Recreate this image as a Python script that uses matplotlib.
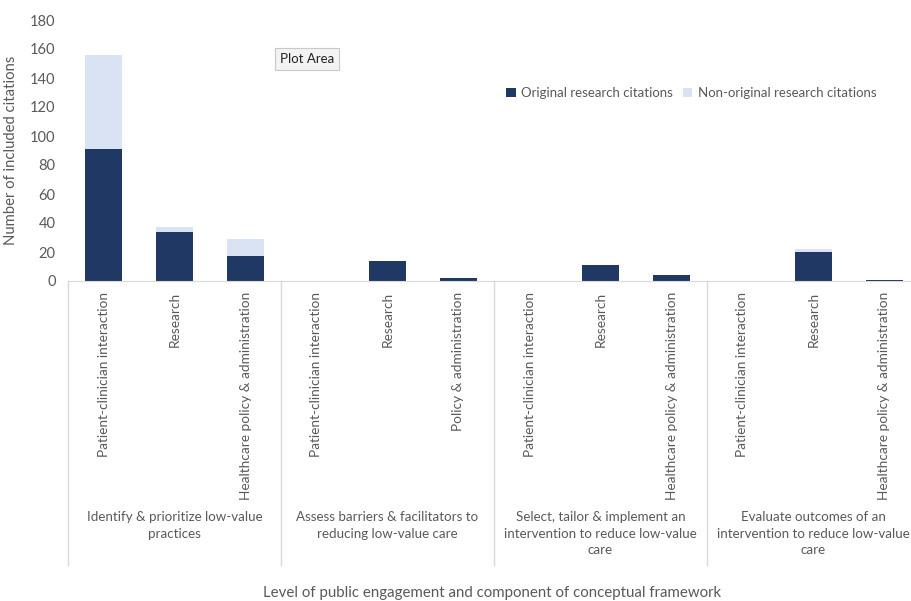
import numpy as np
import matplotlib
matplotlib.use("Agg")
import matplotlib.pyplot as plt
from matplotlib.lines import Line2D
import matplotlib.transforms as mtransforms

plt.rcParams['font.family'] = ['Lato', 'DejaVu Sans']

# framework components (groups) and engagement level within each
groups = ["Identify & prioritize low-value\npractices",
          "Assess barriers & facilitators to\nreducing low-value care",
          "Select, tailor & implement an\nintervention to reduce low-value\ncare",
          "Evaluate outcomes of an\nintervention to reduce low-value\ncare"]
levels = [
    ["Patient-clinician interaction", "Research", "Healthcare policy & administration"],
    ["Patient-clinician interaction", "Research", "Policy & administration"],
    ["Patient-clinician interaction", "Research", "Healthcare policy & administration"],
    ["Patient-clinician interaction", "Research", "Healthcare policy & administration"],
]

# citation counts, one entry per bar (group by group)
original = [91, 34, 17, 0, 14, 2, 0, 11, 4, 0, 20, 1]
non_original = [65, 3, 12, 0, 0, 0, 0, 0, 0, 0, 2, 0]

dark = "#203864"
light = "#DAE3F3"
grey = "#595959"
line_grey = "#D9D9D9"

tick_labels = [lab for g in levels for lab in g]
x = np.arange(len(tick_labels))

fig = plt.figure(figsize=(9.11, 6.01), dpi=100)
W, H = 911, 601
ax = fig.add_axes([68 / W, (H - 281) / H, 852 / W, 261 / H])

ax.bar(x, original, width=0.53, color=dark, label="Original research citations")
ax.bar(x, non_original, width=0.53, bottom=original, color=light,
       label="Non-original research citations")

ax.set_xlim(-0.5, len(x) - 0.5)
ax.set_ylim(0, 180)
ax.set_yticks(np.arange(0, 181, 20))
ax.tick_params(axis='y', length=0, labelsize=10.5, labelcolor=grey, pad=9)
ax.set_xticks(x)
ax.set_xticklabels(tick_labels, rotation=90, fontsize=9.8, color=grey)
ax.tick_params(axis='x', length=0, pad=8)

for side in ["top", "right", "left"]:
    ax.spines[side].set_visible(False)
ax.spines["bottom"].set_color(line_grey)

# group separators and group labels below the rotated tick labels
trans = mtransforms.blended_transform_factory(ax.transData, fig.transFigure)
y_low = (H - 565) / H
y_axis = (H - 281) / H
for b in np.arange(-0.5, len(x), 3):
    ax.add_line(Line2D([b, b], [y_low, y_axis], transform=trans, color=line_grey,
                       lw=1, clip_on=False))
for i, g in enumerate(groups):
    ax.text(3 * i + 1, (H - 511) / H, g, transform=trans, ha='center', va='top',
            fontsize=9.6, color=grey, linespacing=1.45)

ax.set_ylabel("Number of included citations", fontsize=10.7, color=grey)
ax.yaxis.set_label_coords(-50 / 852, 0.5)
fig.text(492 / W, (H - 593) / H, "Level of public engagement and component of conceptual framework",
         ha='center', va='center', fontsize=10.8, color=grey)

ax.legend(loc='upper left', bbox_to_anchor=(501 / W, (H - 82) / H), bbox_transform=fig.transFigure,
          ncol=2, frameon=False, fontsize=9.5, labelcolor=grey, handlelength=0.7, handleheight=0.7,
          handletextpad=0.4, columnspacing=0.8, borderaxespad=0)

fig.text(307 / W, (H - 59) / H, "Plot Area", ha='center', va='center', fontsize=9.5, color="#222222",
         bbox=dict(boxstyle='square,pad=0.4', fc="#F3F3F3", ec="#C8C8C8", lw=0.8))

fig.savefig("out.png", dpi=100)
